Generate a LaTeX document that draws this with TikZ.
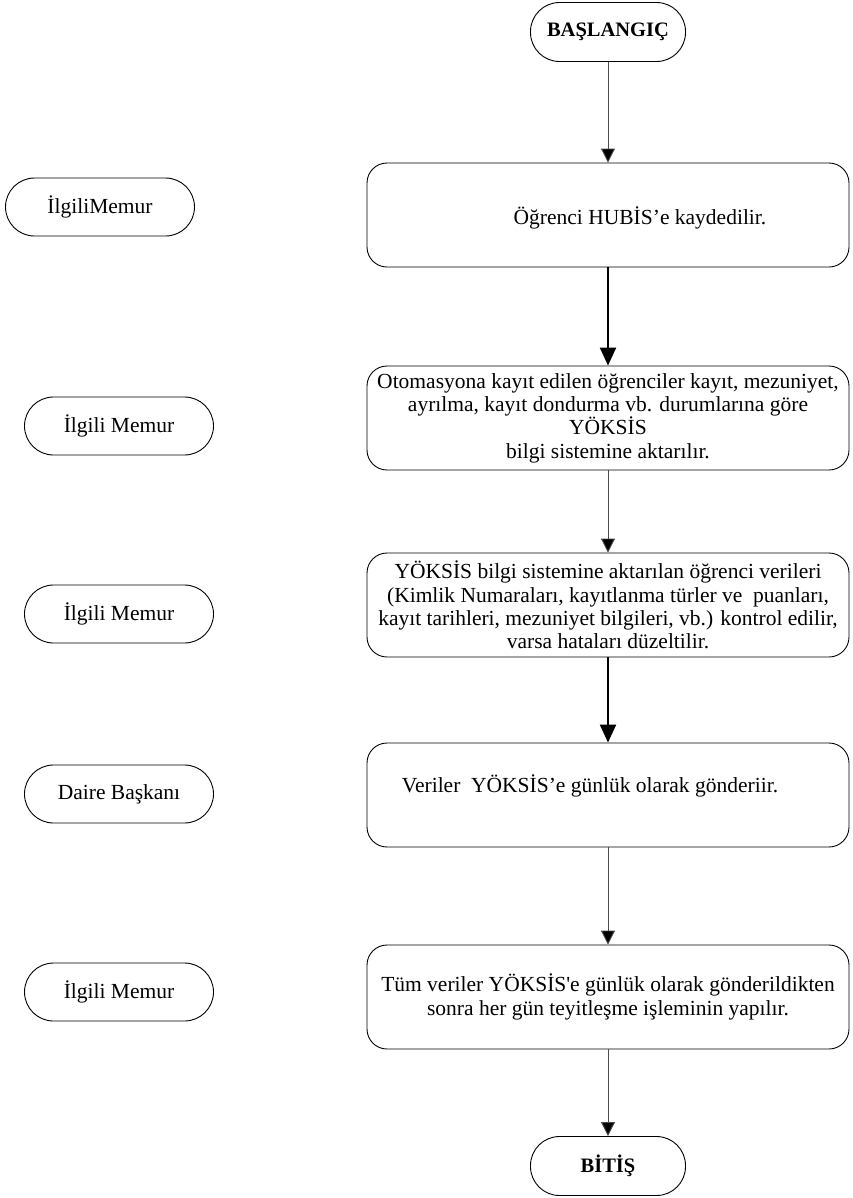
\documentclass[tikz,border=0pt]{standalone}
\usepackage{fontspec}
\setmainfont{Liberation Serif}
\usetikzlibrary{arrows.meta}

\begin{document}
\begin{tikzpicture}[x=1bp,y=-1bp,
	every node/.style={font=\fontsize{21.5bp}{23.3bp}\selectfont},
	startstop/.style={draw,line width=0.9bp,rounded corners=29bp,minimum width=155bp,minimum height=59bp,inner sep=0pt,font=\fontsize{20.5bp}{23.3bp}\selectfont\bfseries},
	actor/.style={draw,line width=0.9bp,rounded corners=29bp,minimum width=189bp,minimum height=58bp,inner sep=0pt},
	process/.style={draw,line width=0.9bp,rounded corners=20bp,minimum width=482bp,minimum height=104bp,inner sep=0pt,align=center},
	flow/.style={line width=0.9bp,draw=black!70,-{Triangle[width=14bp,length=14bp,fill=black]}},
	thickflow/.style={line width=2.2bp,-{Triangle[width=16bp,length=18bp]}}]
	\useasboundingbox (0,0) rectangle (853,1198);

	\node[startstop] (start) at (608,32) {BAŞLANGIÇ};
	\node[process] (kayit) at (608,215) {\mbox{}\\\hspace*{64bp}Öğrenci HUBİS’e kaydedilir.};
	\node[process] (aktar) at (608,418) {Otomasyona kayıt edilen öğrenciler kayıt, mezuniyet,\\ayrılma, kayıt dondurma vb. durumlarına göre\\YÖKSİS\\bilgi sistemine aktarılır.};
	\node[process] (kontrol) at (608,605) {YÖKSİS bilgi sistemine aktarılan öğrenci verileri\\(Kimlik Numaraları, kayıtlanma türler ve\ \ puanları,\\kayıt tarihleri, mezuniyet bilgileri, vb.) kontrol edilir,\\varsa hataları düzeltilir.};
	\node[process] (gonder) at (608,795) {Veriler\ \ YÖKSİS’e günlük olarak gönderiir.\hspace*{36bp}\\\mbox{}};
	\node[process] (teyit) at (608,997) {Tüm veriler YÖKSİS\textquotesingle e günlük olarak gönderildikten\\sonra her gün teyitleşme işleminin yapılır.};
	\node[startstop] (bitis) at (608,1166) {BİTİŞ};

	\node[actor] (memur1) at (100,207) {İlgiliMemur};
	\node[actor] (memur2) at (119,426) {İlgili Memur};
	\node[actor] (memur3) at (119,614) {İlgili Memur};
	\node[actor] (baskan) at (119,794) {Daire Başkanı};
	\node[actor] (memur4) at (119,992) {İlgili Memur};

	\draw[flow] (start) -- (kayit);
	\draw[thickflow] (kayit) -- (aktar);
	\draw[flow] (aktar) -- (kontrol);
	\draw[thickflow] (kontrol) -- (gonder);
	\draw[flow] (gonder) -- (teyit);
	\draw[flow] (teyit) -- (bitis);
\end{tikzpicture}
\end{document}
